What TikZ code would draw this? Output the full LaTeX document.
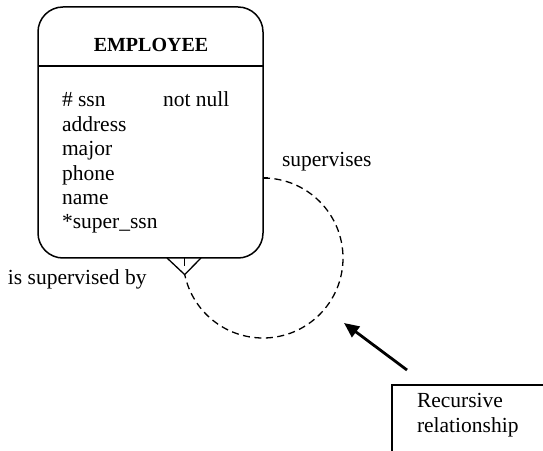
\documentclass[tikz,border=0pt]{standalone}
\usepackage{fontspec}
\setmainfont{Liberation Serif}
\usetikzlibrary{arrows.meta}
\begin{document}
\begin{tikzpicture}[x=1pt,y=1pt,
  every node/.style={inner sep=0pt,outer sep=0pt},
  txt/.style={font=\fontsize{21.5}{24.5}\selectfont,anchor=base west},
  entity/.style={draw,line width=1.5pt,rounded corners=25pt,minimum width=225pt,minimum height=251pt},
  rel/.style={draw,line width=1.3pt,dash pattern=on 7pt off 4.5pt},
  crow/.style={line width=1.3pt},
  callout/.style={line width=2.8pt,-{Triangle[length=15pt,width=13pt]}},
  notebox/.style={draw,line width=1.2pt,minimum width=168pt,minimum height=85pt}]
\useasboundingbox (0,0) rectangle (543,450);

% entity box with header separator
\node[entity] (emp) at (150.5,317.5) {};
\coordinate (sepy) at (0,384);
\draw[line width=1.5pt] (emp.west |- sepy) -- (emp.east |- sepy);
\node[font=\fontsize{20}{22}\selectfont\bfseries,anchor=base] (title) at (151,398) {EMPLOYEE};

% attributes
\node[txt] (a1) at (62,343) {\# ssn};
\node[txt] (a1n) at (163,343) {not null};
\node[txt] (a2) at (62,318.5) {address};
\node[txt] (a3) at (62,294) {major};
\node[txt] (a4) at (62,269.5) {phone};
\node[txt] (a5) at (62,245) {name};
\node[txt] (a6) at (62,221) {*super\_ssn};

% recursive relationship: stub, dashed loop, crow's foot
\coordinate (ctr) at (263,192);
\coordinate (top) at (263,272);
\coordinate (stubend) at (268,272);
\coordinate (foot) at (184.7,175.4);
\coordinate (footL) at (167,192);
\coordinate (footR) at (201,192);
\coordinate (footM) at (184.7,192);
\draw[line width=1.3pt] (emp.east |- top) -- (stubend);
\draw[rel] (top) arc[start angle=90,end angle=-168,radius=80];
\draw[crow] (footL) -- (foot) -- (footR);
\draw[crow] (footM) -- ++(0,-8);

\node[txt] (lsup) at (282,283) {supervises};
\node[txt] (lsupby) at (8,165) {is supervised by};

% note box and its pointer
\node[notebox,anchor=north west] (note) at (392,65) {};
\node[txt] (n1) at (417,43) {Recursive};
\node[txt] (n2) at (417,18) {relationship};
\coordinate (tail) at (407,80);
\coordinate (tip) at (344,127);
\draw[callout] (tail) -- (tip);
\end{tikzpicture}
\end{document}
